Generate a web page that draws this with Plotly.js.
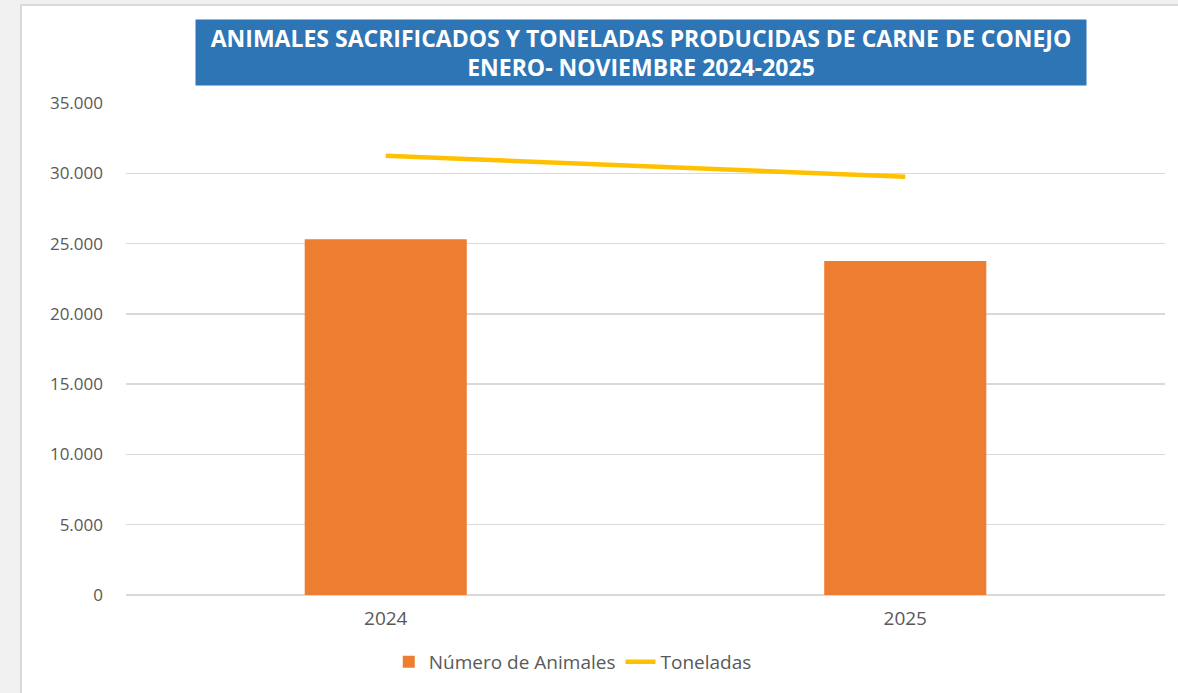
<!DOCTYPE html>
<html>
<head>
<meta charset="utf-8">
<script src="https://cdn.plot.ly/plotly-3.0.1.min.js"></script>
<style>
  html, body { margin: 0; padding: 0; background: #f0f0f0; width: 1178px; height: 693px; overflow: hidden; }
  #chart { position: absolute; left: 20px; top: 4px; width: 1156px; height: 687px; border-left: 2px solid #d9d9d9; border-top: 2px solid #d9d9d9; background: #fff; }
</style>
</head>
<body>
<div id="chart"></div>
<script>
const categories = ["2024", "2025"];
const numeroAnimales = [25300, 23760];
const toneladas = [31250, 29760];
const yTicks = [0, 5000, 10000, 15000, 20000, 25000, 30000, 35000];

const traces = [
  {
    type: "bar",
    name: "Número de Animales",
    x: categories,
    y: numeroAnimales,
    width: 0.312,
    marker: { color: "#ED7D31" },
    hoverinfo: "y"
  },
  {
    type: "scatter",
    mode: "lines",
    name: "Toneladas",
    x: categories,
    y: toneladas,
    line: { color: "#FFC000", width: 4.5 },
    hoverinfo: "y"
  }
];

const layout = {
  width: 1156,
  height: 687,
  margin: { l: 104, r: 13, t: 97, b: 98 },
  paper_bgcolor: "#ffffff",
  plot_bgcolor: "#ffffff",
  separators: ",.",
  font: { family: "Open Sans, sans-serif", color: "#595959", size: 17 },
  showlegend: true,
  legend: {
    orientation: "h",
    x: 0.430, xanchor: "center",
    y: -0.136, yanchor: "middle",
    font: { size: 19, color: "#595959" },
    traceorder: "normal"
  },
  xaxis: {
    type: "category",
    range: [-0.5, 1.5],
    showgrid: false,
    zeroline: false,
    showline: false,
    ticks: "",
    ticklabelstandoff: 10,
    tickfont: { size: 19, color: "#595959" }
  },
  yaxis: {
    range: [0, 35000],
    tickvals: yTicks,
    tickformat: ",.0f",
    showgrid: true,
    gridcolor: "#d9d9d9",
    gridwidth: 1.5,
    zeroline: true,
    zerolinecolor: "#d9d9d9",
    zerolinewidth: 1.5,
    showline: false,
    ticks: "",
    ticklabelstandoff: 22,
    tickfont: { size: 17, color: "#595959" }
  },
  annotations: [
    {
      xref: "paper", yref: "paper",
      x: 0.4957, y: 1.1027,
      xanchor: "center", yanchor: "middle",
      width: 888, height: 63,
      bgcolor: "#2E75B6",
      showarrow: false,
      align: "center",
      valign: "middle",
      text: "<b>ANIMALES SACRIFICADOS Y TONELADAS PRODUCIDAS DE CARNE DE CONEJO</b><br><b>ENERO- NOVIEMBRE 2024-2025</b>",
      font: { family: "Open Sans, sans-serif", size: 23, color: "#ffffff" }
    }
  ]
};

Plotly.newPlot("chart", traces, layout, { displayModeBar: false, staticPlot: true });
</script>
</body>
</html>
